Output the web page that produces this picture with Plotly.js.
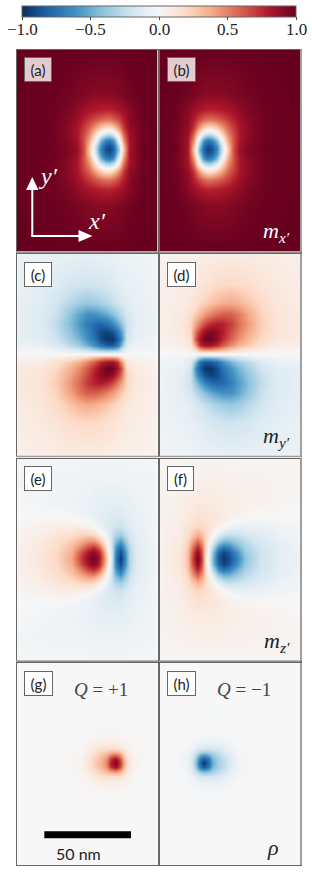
<!DOCTYPE html>
<html><head><meta charset="utf-8">
<script src="https://cdn.plot.ly/plotly-3.0.1.min.js"></script>
<style>html,body{margin:0;padding:0;background:#fff}#g{width:312px;height:875px}</style>
</head><body><div id="g"></div>
<script>
// Values are read from the picture; x and y are positions inside a panel, on non-uniform sampling grids.
const xA=[0,35,50,60,67,73,78,84,89,93,97,102,107,113,125,141];
const yA=[0,45,60,70,78,85,91,96,100,104,109,115,122,130,140,155,202];
const zA=[
[1,1,1,1,1,1,1,1,1,1,1,1,1,1,1,1],
[1,.99,.97,.95,.93,.92,.91,.91,.91,.91,.92,.93,.95,.97,.99,1],
[1,.98,.95,.9,.86,.83,.81,.79,.78,.78,.8,.83,.87,.92,.98,1],
[1,.98,.93,.87,.78,.7,.64,.58,.55,.55,.59,.67,.79,.91,.98,1],
[1,.98,.92,.83,.7,.58,.44,.27,.18,.18,.26,.46,.72,.89,.97,1],
[1,.98,.92,.83,.66,.47,.22,-.1,-.25,-.28,-.17,.14,.58,.86,.97,1],
[1,.98,.93,.85,.64,.37,.04,-.45,-.68,-.72,-.6,-.1,.46,.84,.97,1],
[1,.98,.94,.87,.65,.28,-.12,-.62,-.83,-.87,-.75,-.3,.36,.85,.98,1],
[1,.99,.95,.88,.66,.24,-.15,-.68,-.88,-.93,-.8,-.38,.3,.84,.98,1],
[1,.98,.94,.87,.65,.28,-.12,-.62,-.83,-.87,-.75,-.3,.36,.85,.98,1],
[1,.98,.93,.85,.64,.37,.04,-.45,-.68,-.72,-.6,-.1,.46,.84,.97,1],
[1,.98,.92,.83,.66,.47,.22,-.1,-.25,-.28,-.17,.14,.58,.86,.97,1],
[1,.98,.92,.83,.7,.58,.44,.27,.18,.18,.26,.46,.72,.89,.97,1],
[1,.98,.93,.87,.78,.7,.64,.58,.55,.55,.59,.67,.79,.91,.98,1],
[1,.98,.95,.9,.86,.83,.81,.79,.78,.78,.8,.83,.87,.92,.98,1],
[1,.99,.97,.95,.93,.92,.91,.91,.91,.91,.92,.93,.95,.97,.99,1],
[1,1,1,1,1,1,1,1,1,1,1,1,1,1,1,1]];
const xB=[0,16,28,34,39,44,48,52,57,63,68,74,81,91,106,141];
const zB=[
[1,1,1,1,1,1,1,1,1,1,1,1,1,1,1,1],
[1,.99,.97,.95,.93,.92,.91,.91,.91,.91,.92,.93,.95,.97,.99,1],
[1,.98,.92,.87,.83,.8,.78,.78,.79,.81,.83,.86,.9,.95,.98,1],
[1,.98,.91,.79,.67,.59,.55,.55,.58,.64,.7,.78,.87,.93,.98,1],
[1,.97,.89,.72,.46,.26,.18,.18,.27,.44,.58,.7,.83,.92,.98,1],
[1,.97,.86,.58,.14,-.17,-.28,-.25,-.1,.22,.47,.66,.83,.92,.98,1],
[1,.97,.84,.46,-.1,-.6,-.72,-.68,-.45,.04,.37,.64,.85,.93,.98,1],
[1,.98,.85,.36,-.3,-.75,-.87,-.83,-.62,-.12,.28,.65,.87,.94,.98,1],
[1,.98,.84,.3,-.38,-.8,-.93,-.88,-.68,-.15,.24,.66,.88,.95,.99,1],
[1,.98,.85,.36,-.3,-.75,-.87,-.83,-.62,-.12,.28,.65,.87,.94,.98,1],
[1,.97,.84,.46,-.1,-.6,-.72,-.68,-.45,.04,.37,.64,.85,.93,.98,1],
[1,.97,.86,.58,.14,-.17,-.28,-.25,-.1,.22,.47,.66,.83,.92,.98,1],
[1,.97,.89,.72,.46,.26,.18,.18,.27,.44,.58,.7,.83,.92,.98,1],
[1,.98,.91,.79,.67,.59,.55,.55,.58,.64,.7,.78,.87,.93,.98,1],
[1,.98,.92,.87,.83,.8,.78,.78,.79,.81,.83,.86,.9,.95,.98,1],
[1,.99,.97,.95,.93,.92,.91,.91,.91,.91,.92,.93,.95,.97,.99,1],
[1,1,1,1,1,1,1,1,1,1,1,1,1,1,1,1]];
const xC=[0,25,40,52,62,70,78,84,90,96,101,105,110,118,141];
const yC=[0,30,48,60,70,78,85,91,95,99.5,104,108,114,121,129,139,151,169,202];
const zC=[
[-.06,-.07,-.08,-.08,-.08,-.08,-.08,-.08,-.07,-.07,-.06,-.06,-.05,-.05,-.04],
[-.07,-.1,-.13,-.17,-.19,-.2,-.19,-.18,-.16,-.14,-.12,-.1,-.09,-.07,-.05],
[-.08,-.12,-.19,-.27,-.34,-.37,-.35,-.32,-.28,-.23,-.19,-.15,-.11,-.09,-.05],
[-.09,-.13,-.23,-.38,-.52,-.6,-.6,-.56,-.5,-.42,-.33,-.26,-.17,-.1,-.05],
[-.09,-.14,-.26,-.42,-.56,-.7,-.78,-.8,-.76,-.66,-.52,-.4,-.22,-.11,-.05],
[-.09,-.13,-.24,-.38,-.52,-.65,-.8,-.9,-.94,-.88,-.72,-.54,-.22,-.1,-.05],
[-.09,-.12,-.2,-.33,-.46,-.6,-.75,-.89,-.98,-.97,-.83,-.62,-.18,-.08,-.04],
[-.06,-.08,-.15,-.26,-.36,-.48,-.62,-.76,-.84,-.85,-.74,-.44,-.12,-.06,-.03],
[-.03,-.04,-.08,-.14,-.2,-.28,-.38,-.45,-.5,-.5,-.42,-.22,-.07,-.04,-.02],
[0,0,0,0,0,0,0,0,0,0,0,0,0,0,0],
[.03,.04,.08,.14,.2,.28,.38,.45,.5,.5,.42,.22,.07,.04,.02],
[.06,.08,.15,.26,.36,.48,.62,.76,.84,.85,.74,.44,.12,.06,.03],
[.09,.12,.2,.33,.46,.6,.75,.89,.98,.97,.83,.62,.18,.08,.04],
[.09,.13,.24,.38,.52,.65,.8,.9,.94,.88,.72,.54,.22,.1,.05],
[.09,.14,.26,.42,.56,.7,.78,.8,.76,.66,.52,.4,.22,.11,.05],
[.09,.13,.23,.38,.52,.6,.6,.56,.5,.42,.33,.26,.17,.1,.05],
[.08,.12,.19,.27,.34,.37,.35,.32,.28,.23,.19,.15,.11,.09,.05],
[.07,.1,.13,.17,.19,.2,.19,.18,.16,.14,.12,.1,.09,.07,.05],
[.06,.07,.08,.08,.08,.08,.08,.08,.07,.07,.06,.06,.05,.05,.04]];
const xD=[0,23,31,36,40,45,51,57,63,71,79,89,101,116,141];
const zD=[
[.04,.05,.05,.06,.06,.07,.07,.08,.08,.08,.08,.08,.08,.07,.06],
[.05,.07,.09,.1,.12,.14,.16,.18,.19,.2,.19,.17,.13,.1,.07],
[.05,.09,.11,.15,.19,.23,.28,.32,.35,.37,.34,.27,.19,.12,.08],
[.05,.1,.17,.26,.33,.42,.5,.56,.6,.6,.52,.38,.23,.13,.09],
[.05,.11,.22,.4,.52,.66,.76,.8,.78,.7,.56,.42,.26,.14,.09],
[.05,.1,.22,.54,.72,.88,.94,.9,.8,.65,.52,.38,.24,.13,.09],
[.04,.08,.18,.62,.83,.97,.98,.89,.75,.6,.46,.33,.2,.12,.09],
[.03,.06,.12,.44,.74,.85,.84,.76,.62,.48,.36,.26,.15,.08,.06],
[.02,.04,.07,.22,.42,.5,.5,.45,.38,.28,.2,.14,.08,.04,.03],
[0,0,0,0,0,0,0,0,0,0,0,0,0,0,0],
[-.02,-.04,-.07,-.22,-.42,-.5,-.5,-.45,-.38,-.28,-.2,-.14,-.08,-.04,-.03],
[-.03,-.06,-.12,-.44,-.74,-.85,-.84,-.76,-.62,-.48,-.36,-.26,-.15,-.08,-.06],
[-.04,-.08,-.18,-.62,-.83,-.97,-.98,-.89,-.75,-.6,-.46,-.33,-.2,-.12,-.09],
[-.05,-.1,-.22,-.54,-.72,-.88,-.94,-.9,-.8,-.65,-.52,-.38,-.24,-.13,-.09],
[-.05,-.11,-.22,-.4,-.52,-.66,-.76,-.8,-.78,-.7,-.56,-.42,-.26,-.14,-.09],
[-.05,-.1,-.17,-.26,-.33,-.42,-.5,-.56,-.6,-.6,-.52,-.38,-.23,-.13,-.09],
[-.05,-.09,-.11,-.15,-.19,-.23,-.28,-.32,-.35,-.37,-.34,-.27,-.19,-.12,-.08],
[-.05,-.07,-.09,-.1,-.12,-.14,-.16,-.18,-.19,-.2,-.19,-.17,-.13,-.1,-.07],
[-.04,-.05,-.05,-.06,-.06,-.07,-.07,-.08,-.08,-.08,-.08,-.08,-.08,-.07,-.06]];
const xE=[0,20,40,55,65,72,77,82,88,92,95,99,103.5,108,113,120,141];
const yE=[0,25,45,58,68,76,83,89,94,100,106,111,117,124,132,142,155,175,202];
const zE=[
[-.02,-.02,-.02,-.02,-.02,-.02,-.02,-.02,-.02,-.02,-.02,-.02,-.02,-.02,-.02,-.02,-.02],
[-.03,-.03,-.04,-.04,-.05,-.05,-.06,-.06,-.06,-.06,-.06,-.06,-.06,-.05,-.05,-.04,-.03],
[-.01,-.02,-.04,-.05,-.06,-.07,-.08,-.09,-.1,-.1,-.1,-.1,-.1,-.09,-.08,-.06,-.03],
[0,0,0,-.01,-.04,-.06,-.08,-.1,-.12,-.13,-.14,-.14,-.15,-.12,-.1,-.07,-.04],
[.02,.04,.07,.08,.07,.04,0,-.05,-.1,-.14,-.17,-.2,-.22,-.17,-.13,-.08,-.04],
[.03,.06,.12,.17,.22,.23,.2,.1,-.03,-.12,-.2,-.3,-.36,-.27,-.17,-.09,-.04],
[.04,.08,.16,.26,.38,.46,.46,.36,.12,-.06,-.22,-.45,-.58,-.42,-.22,-.1,-.04],
[.05,.09,.19,.32,.52,.68,.74,.62,.27,-.01,-.2,-.58,-.78,-.55,-.27,-.11,-.04],
[.05,.1,.2,.36,.66,.85,.92,.8,.4,.04,-.18,-.66,-.9,-.64,-.29,-.12,-.04],
[.05,.1,.2,.4,.72,.9,.97,.86,.45,.08,-.15,-.7,-.97,-.68,-.3,-.12,-.04],
[.05,.1,.2,.36,.66,.85,.92,.8,.4,.04,-.18,-.66,-.9,-.64,-.29,-.12,-.04],
[.05,.09,.19,.32,.52,.68,.74,.62,.27,-.01,-.2,-.58,-.78,-.55,-.27,-.11,-.04],
[.04,.08,.16,.26,.38,.46,.46,.36,.12,-.06,-.22,-.45,-.58,-.42,-.22,-.1,-.04],
[.03,.06,.12,.17,.22,.23,.2,.1,-.03,-.12,-.2,-.3,-.36,-.27,-.17,-.09,-.04],
[.02,.04,.07,.08,.07,.04,0,-.05,-.1,-.14,-.17,-.2,-.22,-.17,-.13,-.08,-.04],
[0,0,0,-.01,-.04,-.06,-.08,-.1,-.12,-.13,-.14,-.14,-.15,-.12,-.1,-.07,-.04],
[-.01,-.02,-.04,-.05,-.06,-.07,-.08,-.09,-.1,-.1,-.1,-.1,-.1,-.09,-.08,-.06,-.03],
[-.03,-.03,-.04,-.04,-.05,-.05,-.06,-.06,-.06,-.06,-.06,-.06,-.06,-.05,-.05,-.04,-.03],
[-.02,-.02,-.02,-.02,-.02,-.02,-.02,-.02,-.02,-.02,-.02,-.02,-.02,-.02,-.02,-.02,-.02]];
const xF=[0,21,28,33,37.5,42,46,49,53,59,64,69,76,86,101,121,141];
const zF=[
[.02,.02,.02,.02,.02,.02,.02,.02,.02,.02,.02,.02,.02,.02,.02,.02,.02],
[.03,.04,.05,.05,.06,.06,.06,.06,.06,.06,.06,.05,.05,.04,.04,.03,.03],
[.03,.06,.08,.09,.1,.1,.1,.1,.1,.09,.08,.07,.06,.05,.04,.02,.01],
[.04,.07,.1,.12,.15,.14,.14,.13,.12,.1,.08,.06,.04,.01,0,0,0],
[.04,.08,.13,.17,.22,.2,.17,.14,.1,.05,0,-.04,-.07,-.08,-.07,-.04,-.02],
[.04,.09,.17,.27,.36,.3,.2,.12,.03,-.1,-.2,-.23,-.22,-.17,-.12,-.06,-.03],
[.04,.1,.22,.42,.58,.45,.22,.06,-.12,-.36,-.46,-.46,-.38,-.26,-.16,-.08,-.04],
[.04,.11,.27,.55,.78,.58,.2,.01,-.27,-.62,-.74,-.68,-.52,-.32,-.19,-.09,-.05],
[.04,.12,.29,.64,.9,.66,.18,-.04,-.4,-.8,-.92,-.85,-.66,-.36,-.2,-.1,-.05],
[.04,.12,.3,.68,.97,.7,.15,-.08,-.45,-.86,-.97,-.9,-.72,-.4,-.2,-.1,-.05],
[.04,.12,.29,.64,.9,.66,.18,-.04,-.4,-.8,-.92,-.85,-.66,-.36,-.2,-.1,-.05],
[.04,.11,.27,.55,.78,.58,.2,.01,-.27,-.62,-.74,-.68,-.52,-.32,-.19,-.09,-.05],
[.04,.1,.22,.42,.58,.45,.22,.06,-.12,-.36,-.46,-.46,-.38,-.26,-.16,-.08,-.04],
[.04,.09,.17,.27,.36,.3,.2,.12,.03,-.1,-.2,-.23,-.22,-.17,-.12,-.06,-.03],
[.04,.08,.13,.17,.22,.2,.17,.14,.1,.05,0,-.04,-.07,-.08,-.07,-.04,-.02],
[.04,.07,.1,.12,.15,.14,.14,.13,.12,.1,.08,.06,.04,.01,0,0,0],
[.03,.06,.08,.09,.1,.1,.1,.1,.1,.09,.08,.07,.06,.05,.04,.02,.01],
[.03,.04,.05,.05,.06,.06,.06,.06,.06,.06,.06,.05,.05,.04,.04,.03,.03],
[.02,.02,.02,.02,.02,.02,.02,.02,.02,.02,.02,.02,.02,.02,.02,.02,.02]];
const xG=[0,40,55,64,72,78,84,90,94,98.5,103,107,111,116,124,141];
const yG=[0,60,72,80,85,89,92,95.5,99.5,103.5,107,110,114,119,127,139,202];
const zG=[
[0,0,0,0,0,0,0,0,0,0,0,0,0,0,0,0],
[0,0,0,.002,.003,.004,.005,.005,.005,.005,.004,.003,.003,.002,0,0],
[0,0,0,.005,.01,.015,.02,.02,.02,.02,.015,.01,.01,.005,0,0],
[0,0,.005,.01,.03,.05,.07,.08,.08,.07,.06,.04,.03,.015,0,0],
[0,0,.01,.02,.05,.1,.14,.17,.17,.17,.15,.1,.05,.02,.01,0],
[0,0,.01,.02,.08,.15,.23,.28,.33,.35,.3,.18,.09,.03,.01,0],
[0,0,.01,.03,.1,.19,.27,.38,.5,.58,.48,.28,.12,.04,.01,0],
[0,0,.01,.03,.13,.24,.32,.46,.72,.85,.68,.36,.14,.05,.01,0],
[0,0,.01,.03,.14,.25,.33,.5,.78,.97,.75,.4,.16,.05,.01,0],
[0,0,.01,.03,.13,.24,.32,.46,.72,.85,.68,.36,.14,.05,.01,0],
[0,0,.01,.03,.1,.19,.27,.38,.5,.58,.48,.28,.12,.04,.01,0],
[0,0,.01,.02,.08,.15,.23,.28,.33,.35,.3,.18,.09,.03,.01,0],
[0,0,.01,.02,.05,.1,.14,.17,.17,.17,.15,.1,.05,.02,.01,0],
[0,0,.005,.01,.03,.05,.07,.08,.08,.07,.06,.04,.03,.015,0,0],
[0,0,0,.005,.01,.015,.02,.02,.02,.02,.015,.01,.01,.005,0,0],
[0,0,0,.002,.003,.004,.005,.005,.005,.005,.004,.003,.003,.002,0,0],
[0,0,0,0,0,0,0,0,0,0,0,0,0,0,0,0]];
const xH=[0,18.5,26.5,31.5,35.5,39.5,44,48.5,52.5,58.5,64.5,70.5,78.5,87.5,102.5,141];
const zH=[
[0,0,0,0,0,0,0,0,0,0,0,0,0,0,0,0],
[0,0,-.002,-.003,-.003,-.004,-.005,-.005,-.005,-.005,-.004,-.003,-.002,0,0,0],
[0,0,-.005,-.01,-.01,-.015,-.02,-.02,-.02,-.02,-.015,-.01,-.005,0,0,0],
[0,0,-.015,-.03,-.04,-.06,-.07,-.08,-.08,-.07,-.05,-.03,-.01,-.005,0,0],
[0,-.01,-.02,-.05,-.1,-.15,-.17,-.17,-.17,-.14,-.1,-.05,-.02,-.01,0,0],
[0,-.01,-.03,-.09,-.18,-.3,-.35,-.33,-.28,-.23,-.15,-.08,-.02,-.01,0,0],
[0,-.01,-.04,-.12,-.28,-.48,-.58,-.5,-.38,-.27,-.19,-.1,-.03,-.01,0,0],
[0,-.01,-.05,-.14,-.36,-.68,-.85,-.72,-.46,-.32,-.24,-.13,-.03,-.01,0,0],
[0,-.01,-.05,-.16,-.4,-.75,-.97,-.78,-.5,-.33,-.25,-.14,-.03,-.01,0,0],
[0,-.01,-.05,-.14,-.36,-.68,-.85,-.72,-.46,-.32,-.24,-.13,-.03,-.01,0,0],
[0,-.01,-.04,-.12,-.28,-.48,-.58,-.5,-.38,-.27,-.19,-.1,-.03,-.01,0,0],
[0,-.01,-.03,-.09,-.18,-.3,-.35,-.33,-.28,-.23,-.15,-.08,-.02,-.01,0,0],
[0,-.01,-.02,-.05,-.1,-.15,-.17,-.17,-.17,-.14,-.1,-.05,-.02,-.01,0,0],
[0,0,-.015,-.03,-.04,-.06,-.07,-.08,-.08,-.07,-.05,-.03,-.01,-.005,0,0],
[0,0,-.005,-.01,-.01,-.015,-.02,-.02,-.02,-.02,-.015,-.01,-.005,0,0,0],
[0,0,-.002,-.003,-.003,-.004,-.005,-.005,-.005,-.005,-.004,-.003,-.002,0,0,0],
[0,0,0,0,0,0,0,0,0,0,0,0,0,0,0,0]];
const cbTicks=[-1,-.5,0,.5,1];
const cbLabels=['\u22121.0','\u22120.5','0.0','0.5','1.0'];
const panelNames=['(a)','(b)','(c)','(d)','(e)','(f)','(g)','(h)'];

const W=312,H=875,PH=202,PW=141;
const px=v=>v/W, py=v=>1-v/H;
const RdBu=[[0,'#053061'],[.1,'#2166ac'],[.2,'#4393c3'],[.3,'#92c5de'],[.4,'#d1e5f0'],[.5,'#f7f7f7'],[.6,'#fddbc7'],[.7,'#f4a582'],[.8,'#d6604d'],[.9,'#b2182b'],[1,'#67001f']];
const tops=[49.5,254,458.5,663], lefts=[16.5,159.5];
const grids=[[xA,yA,zA],[xB,yA,zB],[xC,yC,zC],[xD,yC,zD],[xE,yE,zE],[xF,yE,zF],[xG,yG,zG],[xH,yG,zH]];
const SERIF='"Liberation Serif",serif', SANS='Lato,sans-serif';
const data=[],layout={width:W,height:H,margin:{l:0,r:0,t:0,b:0,pad:0,autoexpand:false},paper_bgcolor:'#fff',plot_bgcolor:'#fff',showlegend:false};
const boxes=[[24,57,26,23],[166.7,57,27,23],[24,262,26,23],[166.7,262,27,23],[24,466,26,23],[166.7,466,25,23],[24,671,27,23],[166.7,671,27,23]];
const ann=[],shapes=[];
grids.forEach((g,i)=>{
  const r=Math.floor(i/2),c=i%2,n=i+1,sx=n===1?'':n;
  const t={type:'heatmap',x:g[0],y:g[1],z:g[2],xaxis:'x'+sx,yaxis:'y'+sx,zmin:-1,zmax:1,colorscale:RdBu,zsmooth:'best',showscale:i===0,hoverinfo:'skip'};
  if(i===0) t.colorbar={orientation:'h',x:px(22),xanchor:'left',y:py(6),yanchor:'top',len:274,lenmode:'pixels',thickness:10.5,thicknessmode:'pixels',xpad:0,ypad:0,
    tickmode:'array',tickvals:cbTicks,ticktext:cbTicks.map(()=>''),ticks:'outside',ticklen:3,tickwidth:1,tickcolor:'#444',outlinecolor:'#666',outlinewidth:1,
    tickfont:{family:SERIF,size:17,color:'#222'}};
  data.push(t);
  const ax={showgrid:false,zeroline:false,ticks:'',showticklabels:false,showline:true,mirror:true,linecolor:'#666',linewidth:1};
  layout['xaxis'+sx]=Object.assign({},ax,{domain:[px(lefts[c]),px(lefts[c]+PW)],range:[0,PW],anchor:'y'+sx});
  layout['yaxis'+sx]=Object.assign({},ax,{domain:[py(tops[r]+PH),py(tops[r])],range:[PH,0],anchor:'x'+sx});
  const b=boxes[i];
  ann.push({xref:'paper',yref:'paper',x:px(b[0]),y:py(b[1]),xanchor:'left',yanchor:'top',width:b[2],height:b[3],align:'center',valign:'middle',showarrow:false,
    text:panelNames[i],font:{family:SANS,size:15,color:'#222'},bgcolor:i<2?'rgba(255,255,255,.8)':'#fff',bordercolor:'#666',borderwidth:1,borderpad:0});
  // lighter bottom edges on the upper rows and on the outer right edge
  if(r<3) shapes.push({xref:'paper',yref:'paper',type:'line',x0:px(lefts[c]-.5),x1:px(lefts[c]+PW+.5),y0:py(tops[r]+PH+.5),y1:py(tops[r]+PH+.5),line:{color:'#a0a0a0',width:1.5}});
  if(c===1) shapes.push({xref:'paper',yref:'paper',type:'line',x0:px(lefts[c]+PW+.5),x1:px(lefts[c]+PW+.5),y0:py(tops[r]),y1:py(tops[r]+PH),line:{color:'#a0a0a0',width:2}});
});
function label(x,y,text,size,color,family,style){ann.push({xref:'paper',yref:'paper',x:px(x),y:py(y),xanchor:'center',yanchor:'middle',showarrow:false,text:text,font:{family:family||SERIF,size:size,color:color,style:style||'normal'}});}
cbTicks.forEach((v,i)=>label(22+274*(v+1)/2,29.5,cbLabels[i],17,'#222'));
label(100.5,689,'<i>Q</i> = +1',19,'#444');
label(244,689,'<i>Q</i> = \u22121',19,'#444');
label(78,853,'50 nm',16,'#222',SANS);
label(273,847,'\u03c1',22,'#222',SERIF,'italic');
label(276.5,232,'m<sub>x\u2032</sub>',22,'#fff',SERIF,'italic');
label(276.5,437,'m<sub>y\u2032</sub>',22,'#222',SERIF,'italic');
label(276.5,642,'m<sub>z\u2032</sub>',22,'#222',SERIF,'italic');
label(48,176,'y\u2032',24,'#fff',SERIF,'italic');
label(97,221,'x\u2032',24,'#fff',SERIF,'italic');
layout.annotations=ann;
const paper=(o)=>Object.assign({xref:'paper',yref:'paper'},o);
shapes.push(paper({type:'rect',x0:px(44.3),x1:px(131),y0:py(831.3),y1:py(838.3),fillcolor:'#000',line:{width:0}}));
shapes.push(paper({type:'path',path:`M${px(32.3)},${py(236)}L${px(32.3)},${py(188)}`,line:{color:'#fff',width:2}}));
shapes.push(paper({type:'path',path:`M${px(31.3)},${py(236)}L${px(80)},${py(236)}`,line:{color:'#fff',width:2}}));
shapes.push(paper({type:'path',path:`M${px(26)},${py(190)}L${px(32.3)},${py(177)}L${px(38.5)},${py(190)}Z`,fillcolor:'#fff',line:{width:0}}));
shapes.push(paper({type:'path',path:`M${px(78.5)},${py(230)}L${px(92.5)},${py(236)}L${px(78.5)},${py(242)}Z`,fillcolor:'#fff',line:{width:0}}));
layout.shapes=shapes;
Plotly.newPlot('g',data,layout,{staticPlot:true,displayModeBar:false});
</script></body></html>
